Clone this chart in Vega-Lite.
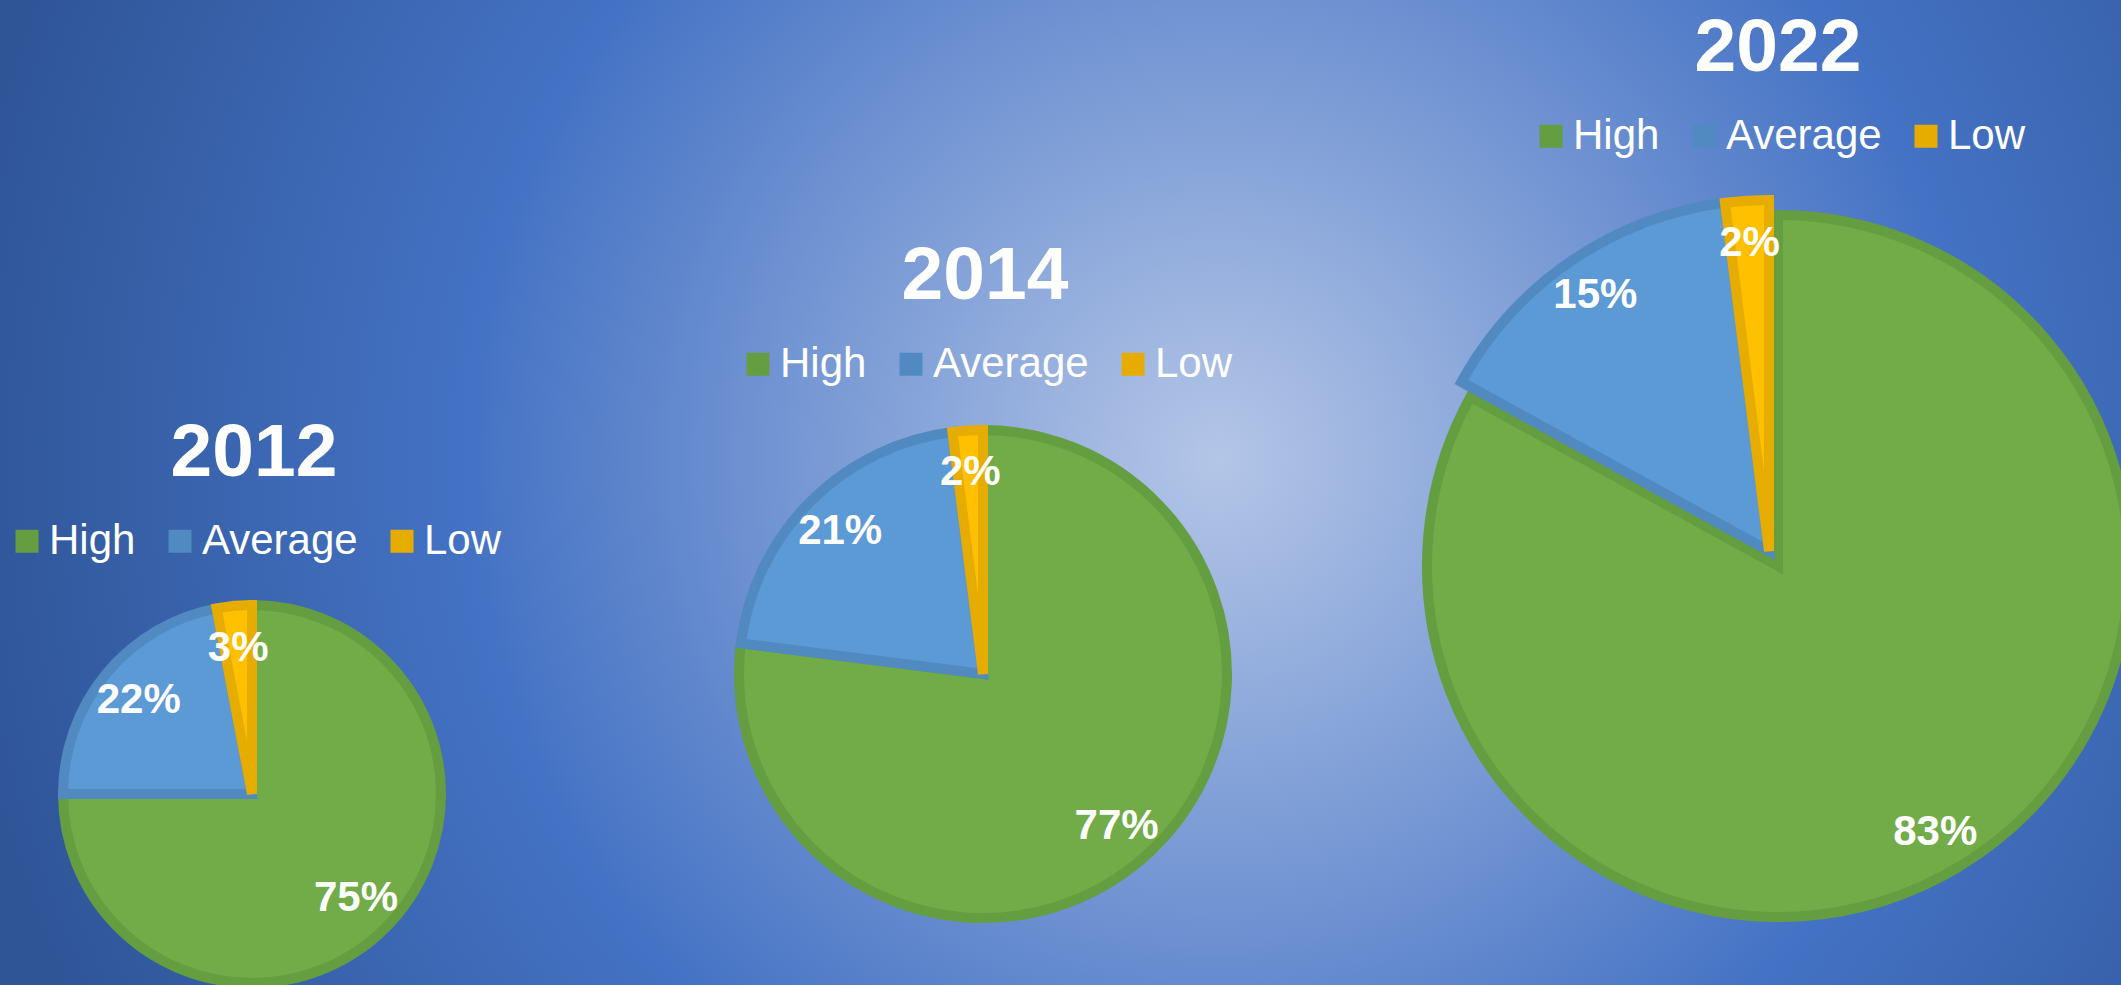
{
  "$schema": "https://vega.github.io/schema/vega-lite/v6.json",
  "width": 2121,
  "height": 985,
  "autosize": {"type": "none"},
  "padding": 0,
  "background": "#4472c4",
  "config": {
    "view": {
      "stroke": null,
      "fill": {
        "gradient": "radial",
        "x1": 0.574, "y1": 0.484, "r1": 0,
        "x2": 0.574, "y2": 0.484, "r2": 0.6,
        "stops": [
          {"offset": 0, "color": "#b4c6e7"},
          {"offset": 0.59, "color": "#4472c4"},
          {"offset": 1, "color": "#2f5597"}
        ]
      }
    },
    "legend": {
      "orient": "none", "direction": "horizontal",
      "titleFont": "Liberation Sans", "titleFontSize": 75, "titleFontWeight": "bold", "titleColor": "white",
      "titleAnchor": "middle", "titlePadding": 28, "titleLimit": 1000,
      "labelFont": "Liberation Sans", "labelFontSize": 42, "labelColor": "white", "labelLimit": 500,
      "labelOffset": 1, "columnPadding": 14, "symbolType": "square", "symbolSize": 121,
      "symbolStrokeWidth": 12, "symbolFillColor": "transparent", "symbolOpacity": 1, "padding": 0
    }
  },
  "data": {
    "values": [
      {"year": 2012, "category": "High", "rank": 1, "value": 0.75},
      {"year": 2012, "category": "Average", "rank": 2, "value": 0.22},
      {"year": 2012, "category": "Low", "rank": 3, "value": 0.03},
      {"year": 2014, "category": "High", "rank": 1, "value": 0.77},
      {"year": 2014, "category": "Average", "rank": 2, "value": 0.21},
      {"year": 2014, "category": "Low", "rank": 3, "value": 0.02},
      {"year": 2022, "category": "High", "rank": 1, "value": 0.83},
      {"year": 2022, "category": "Average", "rank": 2, "value": 0.15},
      {"year": 2022, "category": "Low", "rank": 3, "value": 0.02}
    ]
  },
  "encoding": {
    "x": {"field": "year", "type": "quantitative", "axis": null,
          "scale": {"domain": [2012, 2014, 2022], "range": [252, 983, 1769], "nice": false, "zero": false}},
    "y": {"field": "year", "type": "quantitative", "axis": null,
          "scale": {"domain": [2012, 2014, 2022], "range": [794, 674, 551], "nice": false, "zero": false}},
    "radius": {"field": "year", "type": "quantitative", "legend": null,
               "scale": {"type": "linear", "domain": [2012, 2014, 2022], "range": [189, 244, 351], "nice": false, "zero": false}},
    "theta": {"field": "value", "type": "quantitative", "stack": true,
              "scale": {"domain": [0, 1], "range": [6.283185307179586, 0]}},
    "order": {"field": "rank", "type": "quantitative", "sort": "descending"}
  },
  "layer": [
    {
      "transform": [{"filter": "datum.year == 2012"}],
      "layer": [
        {
          "mark": {"type": "arc", "innerRadius": 0, "strokeWidth": 10, "strokeJoin": "miter"},
          "encoding": {
            "fill": {"field": "category", "type": "nominal", "legend": null,
                     "scale": {"domain": ["High", "Average", "Low"], "range": ["#71ac48", "#5b9ad5", "#ffc000"]}},
            "stroke": {"field": "category", "type": "nominal",
                       "scale": {"domain": ["High", "Average", "Low"], "range": ["#649e40", "#508ac0", "#e6ad00"]},
                       "legend": {"title": "2012", "orient": "none", "legendX": 6, "legendY": 417}}
          }
        },
        {
          "mark": {"type": "text", "radiusOffset": -42, "font": "Liberation Sans", "fontSize": 42, "fontWeight": "bold",
                   "color": "white", "align": "center", "baseline": "middle"},
          "encoding": {
            "detail": {"field": "category", "type": "nominal"},
            "text": {"field": "value", "type": "quantitative", "format": ".0%"}
          }
        }
      ]
    },
    {
      "transform": [{"filter": "datum.year == 2014"}],
      "layer": [
        {
          "mark": {"type": "arc", "innerRadius": 0, "strokeWidth": 10, "strokeJoin": "miter"},
          "encoding": {
            "fill": {"field": "category", "type": "nominal", "legend": null,
                     "scale": {"domain": ["High", "Average", "Low"], "range": ["#71ac48", "#5b9ad5", "#ffc000"]}},
            "stroke": {"field": "category", "type": "nominal",
                       "scale": {"domain": ["High", "Average", "Low"], "range": ["#649e40", "#508ac0", "#e6ad00"]},
                       "legend": {"title": "2014", "orient": "none", "legendX": 737, "legendY": 240}}
          }
        },
        {
          "mark": {"type": "text", "radiusOffset": -42, "font": "Liberation Sans", "fontSize": 42, "fontWeight": "bold",
                   "color": "white", "align": "center", "baseline": "middle"},
          "encoding": {
            "detail": {"field": "category", "type": "nominal"},
            "text": {"field": "value", "type": "quantitative", "format": ".0%"}
          }
        }
      ]
    },
    {
      "transform": [{"filter": "datum.year == 2022"}],
      "layer": [
        {
          "mark": {"type": "arc", "innerRadius": 0, "strokeWidth": 10, "strokeJoin": "miter",
                   "xOffset": {"expr": "datum.category == 'High' ? 9 : 0"},
                   "yOffset": {"expr": "datum.category == 'High' ? 15 : 0"}},
          "encoding": {
            "fill": {"field": "category", "type": "nominal", "legend": null,
                     "scale": {"domain": ["High", "Average", "Low"], "range": ["#71ac48", "#5b9ad5", "#ffc000"]}},
            "stroke": {"field": "category", "type": "nominal",
                       "scale": {"domain": ["High", "Average", "Low"], "range": ["#649e40", "#508ac0", "#e6ad00"]},
                       "legend": {"title": "2022", "orient": "none", "legendX": 1530, "legendY": 12}}
          }
        },
        {
          "mark": {"type": "text", "radiusOffset": -42, "font": "Liberation Sans", "fontSize": 42, "fontWeight": "bold",
                   "color": "white", "align": "center", "baseline": "middle",
                   "xOffset": {"expr": "datum.category == 'High' ? 9 : 0"},
                   "yOffset": {"expr": "datum.category == 'High' ? 15 : 0"}},
          "encoding": {
            "detail": {"field": "category", "type": "nominal"},
            "text": {"field": "value", "type": "quantitative", "format": ".0%"}
          }
        }
      ]
    }
  ],
  "resolve": {"scale": {"stroke": "independent"}, "legend": {"stroke": "independent"}}
}
